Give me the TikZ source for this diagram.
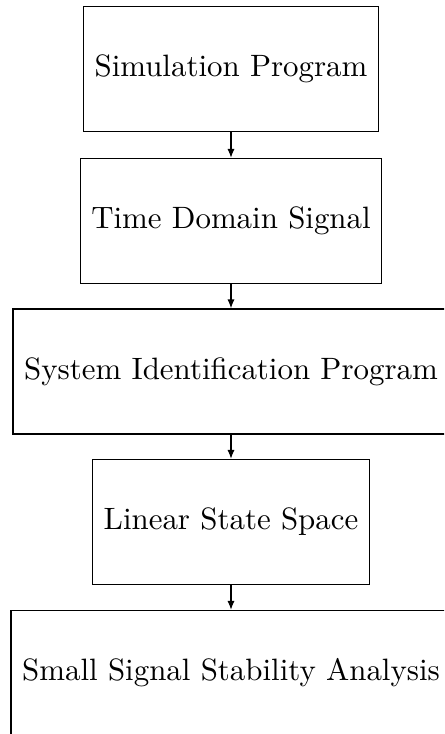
\documentclass[tikz,border=0pt]{standalone}
\usetikzlibrary{arrows.meta}
\begin{document}
\begin{tikzpicture}[x=0.3236pt,y=-0.3236pt,
  procbox/.style={draw=black,line width=0.4pt,minimum height=40.45pt,inner xsep=3.6pt,font=\fontsize{10}{12}\selectfont},
  flow/.style={-{Latex[length=2.9pt,width=2.3pt]},line width=0.4pt}]
\useasboundingbox (0,0) rectangle (444,734);
\clip (0,0) rectangle (444,734);
\node[procbox] (sim) at (231,69) {Simulation Program};
\node[procbox] (tds) at (231,221) {Time Domain Signal};
\node[procbox] (sip) at (231,371.5) {System Identification Program};
\node[procbox] (lss) at (231,522) {Linear State Space};
\node[procbox] (sss) at (231,673) {Small Signal Stability Analysis};
\draw[flow] (sim) -- (tds);
\draw[flow] (tds) -- (sip);
\draw[flow] (sip) -- (lss);
\draw[flow] (lss) -- (sss);
\end{tikzpicture}
\end{document}
